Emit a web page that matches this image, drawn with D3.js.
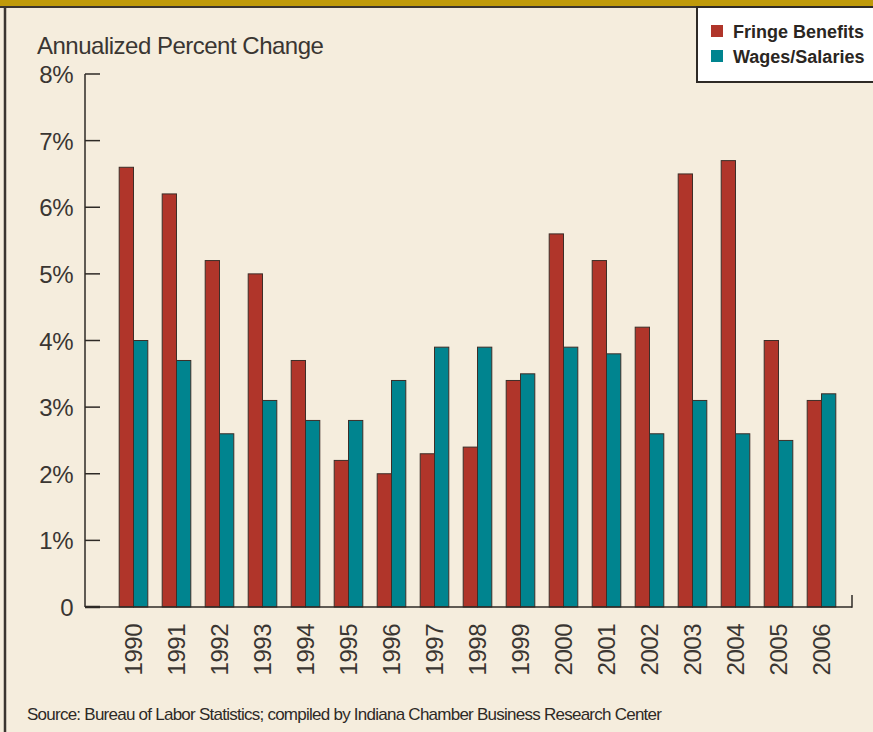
<!DOCTYPE html>
<html><head><meta charset="utf-8">
<script src="https://cdn.jsdelivr.net/npm/d3@7"></script>
<style>
html,body{margin:0;padding:0;background:#f5eddd;}
svg{display:block;}
</style></head>
<body><svg id="c" width="873" height="732"></svg>
<script>
const years = ["1990","1991","1992","1993","1994","1995","1996","1997","1998","1999","2000","2001","2002","2003","2004","2005","2006"];
const fringe = [6.6,6.2,5.2,5.0,3.7,2.2,2.0,2.3,2.4,3.4,5.6,5.2,4.2,6.5,6.7,4.0,3.1];
const wages  = [4.0,3.7,2.6,3.1,2.8,2.8,3.4,3.9,3.9,3.5,3.9,3.8,2.6,3.1,2.6,2.5,3.2];
const seriesNames = ["Fringe Benefits","Wages/Salaries"];
const seriesColors = ["#b0352a","#00848f"];
const yTicks = [0,1,2,3,4,5,6,7,8];

const svg = d3.select("#c");
svg.append("rect").attr("x",0).attr("y",0).attr("width",873).attr("height",732).attr("fill","#f5eddd");
svg.append("rect").attr("x",0).attr("y",0).attr("width",873).attr("height",7).attr("fill","#bf9a0a");
svg.append("line").attr("x1",0).attr("x2",873).attr("y1",7).attr("y2",7).attr("stroke","#3a3530").attr("stroke-width",2);
svg.append("line").attr("x1",5).attr("x2",5).attr("y1",7).attr("y2",732).attr("stroke","#3a3530").attr("stroke-width",2.5);

const y = d3.scaleLinear().domain([0,8]).range([607,74]);
const x0 = d3.scaleBand().domain(years).range([112,843]).paddingInner(0.335).paddingOuter(0.1675);
const x1 = d3.scaleBand().domain([0,1]).range([0,x0.bandwidth()]);

const g = svg.append("g");
years.forEach((yr,i)=>{
  [fringe[i],wages[i]].forEach((v,j)=>{
    g.append("rect")
      .attr("x",x0(yr)+x1(j))
      .attr("y",y(v))
      .attr("width",x1.bandwidth())
      .attr("height",y(0)-y(v))
      .attr("fill",seriesColors[j])
      .attr("stroke","#3d2e28").attr("stroke-width",1);
  });
});

const ya = svg.append("g").attr("transform","translate(85,0)");
ya.append("line").attr("x1",0).attr("x2",0).attr("y1",y(8)).attr("y2",y(0)).attr("stroke","#2e2a26").attr("stroke-width",1.5);
ya.selectAll(".tk").data(yTicks).enter().append("line")
  .attr("x1",0).attr("x2",15).attr("y1",d=>y(d)).attr("y2",d=>y(d))
  .attr("stroke","#2e2a26").attr("stroke-width",d=>d===0?2.5:1.5);
ya.selectAll(".lb").data(yTicks).enter().append("text")
  .attr("x",-12).attr("y",d=>y(d)+9)
  .attr("text-anchor","end")
  .attr("font-family","'Liberation Sans', Arial, sans-serif")
  .attr("font-size",24).attr("fill","#3a3632").attr("letter-spacing",-0.5)
  .text(d=>d===0?"0":d+"%");

svg.append("line").attr("x1",85).attr("x2",852).attr("y1",y(0)).attr("y2",y(0)).attr("stroke","#2e2a26").attr("stroke-width",1.5);
svg.append("line").attr("x1",852).attr("x2",852).attr("y1",y(0)+0.75).attr("y2",595).attr("stroke","#2e2a26").attr("stroke-width",1.5);

svg.selectAll(".xl").data(years).enter().append("text")
  .attr("transform",d=>`translate(${x0(d)+x0.bandwidth()/2+8.5},624) rotate(-90)`)
  .attr("text-anchor","end")
  .attr("font-family","'Liberation Sans', Arial, sans-serif")
  .attr("font-size",24).attr("fill","#3a3632").attr("letter-spacing",-0.5)
  .text(d=>d);

svg.append("text").attr("x",37).attr("y",54)
  .attr("font-family","'Liberation Sans', Arial, sans-serif")
  .attr("font-size",24).attr("fill","#3a3632").attr("letter-spacing",-0.5)
  .text("Annualized Percent Change");

svg.append("text").attr("x",27).attr("y",720)
  .attr("font-family","'Liberation Sans', Arial, sans-serif")
  .attr("font-size",17).attr("fill","#2e2a26").attr("letter-spacing",-0.75)
  .text("Source: Bureau of Labor Statistics; compiled by Indiana Chamber Business Research Center");

const lg = svg.append("g");
lg.append("rect").attr("x",697).attr("y",7).attr("width",180).attr("height",75)
  .attr("fill","#ffffff").attr("stroke","#2e2a26").attr("stroke-width",2);
seriesNames.forEach((n,i)=>{
  lg.append("rect").attr("x",711).attr("y",25+i*25).attr("width",12).attr("height",12).attr("fill",seriesColors[i]);
  lg.append("text").attr("x",733).attr("y",38+i*25)
    .attr("font-family","'Liberation Sans', Arial, sans-serif")
    .attr("font-weight","bold").attr("font-size",18).attr("fill","#2a2622")
    .text(n);
});
</script></body></html>
